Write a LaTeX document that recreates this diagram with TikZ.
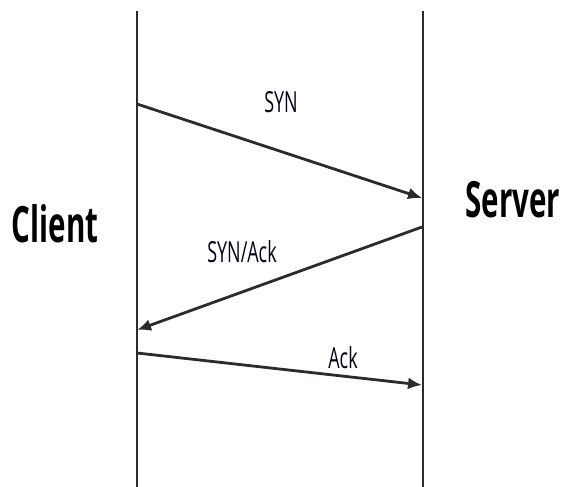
\documentclass[tikz,border=0pt]{standalone}
\usepackage{fontspec}
\setmainfont{Open Sans}
\usetikzlibrary{arrows.meta}
\definecolor{lifeline}{HTML}{2E2A27}
\tikzset{
  msg/.style={line width=1.4pt,draw=lifeline,-{Latex[length=7pt,width=6pt]}},
  msglabel/.style={font=\fontsize{14.5}{16}\selectfont,text=black!90!blue,xscale=0.62,transform shape},
  party/.style={font=\fontsize{25}{28}\selectfont\bfseries,xscale=0.59,transform shape}
}
\begin{document}
\begin{tikzpicture}[x=0.5pt,y=0.5pt]
\useasboundingbox (0,0) rectangle (563,487);
\draw[line width=1.4pt,lifeline] (137,0) -- (137,476);
\draw[line width=1.4pt,lifeline] (423,0) -- (423,476);
\coordinate (synA) at (137,383);
\coordinate (synB) at (422,289);
\coordinate (sackA) at (422,260);
\coordinate (sackB) at (137,157);
\coordinate (ackA) at (137,134);
\coordinate (ackB) at (422,102);
\draw[msg] (synA) -- (synB);
\draw[msg] (sackA) -- (sackB);
\draw[msg] (ackA) -- (ackB);
\node[msglabel] (syn) at (281,385) {SYN};
\node[msglabel] (synack) at (242,235) {SYN/Ack};
\node[msglabel] (ack) at (343,129) {Ack};
\node[party] (client) at (55,263) {Client};
\node[party] (server) at (513,287) {Server};
\end{tikzpicture}
\end{document}
